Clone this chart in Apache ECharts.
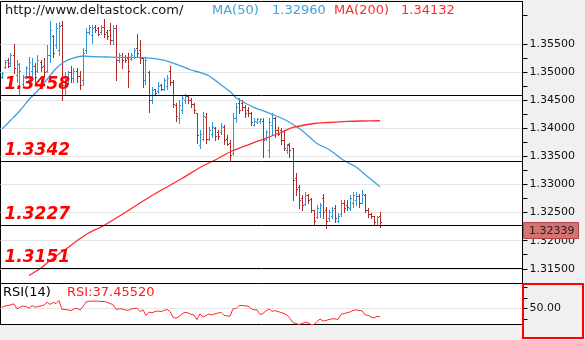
<!DOCTYPE html>
<html>
<head>
<meta charset="utf-8">
<script src="https://cdn.jsdelivr.net/npm/echarts@6/dist/echarts.min.js"></script>
<style>
  html, body { margin: 0; padding: 0; background: #f0f0f0; }
  #chart { width: 585px; height: 340px; }
</style>
</head>
<body>
<div id="chart"></div>
<script>
// OHLC bars, oldest first
const open = [
  1.34901, 1.35079, 1.35203, 1.35150, 1.35292, 1.34937, 1.34759, 1.34794, 1.34919, 1.34848,
  1.35025, 1.35114, 1.35025, 1.35185, 1.35097, 1.35025, 1.35292, 1.35630, 1.35470, 1.35381,
  1.35826, 1.34759, 1.34848, 1.34990, 1.34883, 1.35025, 1.34919, 1.34848, 1.35381, 1.35701,
  1.35648, 1.35790, 1.35772, 1.35701, 1.35790, 1.35701, 1.35737, 1.35559, 1.35772, 1.35203,
  1.35274, 1.35257, 1.35239, 1.35221, 1.35274, 1.35417, 1.35381, 1.35239, 1.34848, 1.34990,
  1.34492, 1.34688, 1.34652, 1.34759, 1.34705, 1.34741, 1.35025, 1.34812, 1.34403, 1.34172,
  1.34314, 1.34492, 1.34563, 1.34492, 1.34421, 1.34261, 1.33692, 1.33816, 1.34190, 1.33816,
  1.33905, 1.33994, 1.33923, 1.33923, 1.34012, 1.33816, 1.33745, 1.33567, 1.34172, 1.34456,
  1.34439, 1.34385, 1.34314, 1.34261, 1.34065, 1.34101, 1.34119, 1.34136, 1.33816, 1.33603,
  1.34048, 1.34172, 1.33976, 1.33959, 1.33781, 1.33603, 1.33710, 1.33639, 1.33105, 1.32945,
  1.32750, 1.32643, 1.32803, 1.32732, 1.32536, 1.32412, 1.32501, 1.32767, 1.32536, 1.32394,
  1.32447, 1.32572, 1.32358, 1.32465, 1.32678, 1.32625, 1.32572, 1.32678, 1.32714, 1.32785,
  1.32678, 1.32803, 1.32536, 1.32465, 1.32430, 1.32287, 1.32447
];
const high = [
  1.34990, 1.35203, 1.35239, 1.35345, 1.35505, 1.35203, 1.35150, 1.34937, 1.35114, 1.35257,
  1.35239, 1.35150, 1.35292, 1.35203, 1.35239, 1.35470, 1.35914, 1.35648, 1.35861, 1.35879,
  1.35914, 1.34990, 1.35025, 1.35114, 1.35061, 1.35061, 1.35025, 1.35417, 1.35772, 1.35826,
  1.35826, 1.35826, 1.35790, 1.35826, 1.35932, 1.35737, 1.35861, 1.35826, 1.35826, 1.35328,
  1.35345, 1.35292, 1.35328, 1.35328, 1.35417, 1.35683, 1.35559, 1.35257, 1.35257, 1.35025,
  1.34723, 1.34705, 1.34812, 1.34794, 1.34883, 1.34937, 1.35114, 1.34848, 1.34439, 1.34492,
  1.34581, 1.34616, 1.34581, 1.34545, 1.34456, 1.34261, 1.33959, 1.34279, 1.34261, 1.34012,
  1.34101, 1.34012, 1.33959, 1.34083, 1.34048, 1.33870, 1.33781, 1.34261, 1.34439, 1.34528,
  1.34492, 1.34403, 1.34368, 1.34279, 1.34172, 1.34172, 1.34172, 1.34172, 1.33959, 1.34172,
  1.34261, 1.34190, 1.34012, 1.33994, 1.33959, 1.33727, 1.33745, 1.33656, 1.33194, 1.32981,
  1.32803, 1.32856, 1.32838, 1.32750, 1.32536, 1.32625, 1.32678, 1.32838, 1.32590, 1.32536,
  1.32590, 1.32625, 1.32483, 1.32714, 1.32714, 1.32714, 1.32803, 1.32856, 1.32856, 1.32838,
  1.32892, 1.32838, 1.32572, 1.32483, 1.32447, 1.32447, 1.32501
];
const low = [
  1.34883, 1.35061, 1.35079, 1.35114, 1.34972, 1.34812, 1.34616, 1.34759, 1.34883, 1.34723,
  1.34901, 1.34794, 1.34990, 1.35025, 1.34937, 1.34990, 1.35168, 1.35257, 1.35434, 1.35292,
  1.34492, 1.34616, 1.34794, 1.34812, 1.34812, 1.34812, 1.34705, 1.34759, 1.35345, 1.35683,
  1.35523, 1.35701, 1.35648, 1.35683, 1.35612, 1.35594, 1.35505, 1.35505, 1.34848, 1.35168,
  1.35061, 1.35168, 1.34723, 1.35203, 1.35239, 1.35257, 1.35150, 1.34723, 1.34794, 1.34279,
  1.34456, 1.34616, 1.34634, 1.34670, 1.34670, 1.34705, 1.34759, 1.34368, 1.34136, 1.34083,
  1.34261, 1.34439, 1.34456, 1.34368, 1.34261, 1.33745, 1.33639, 1.33781, 1.33745, 1.33781,
  1.33834, 1.33781, 1.33816, 1.33905, 1.33727, 1.33692, 1.33425, 1.33514, 1.34101, 1.34261,
  1.34314, 1.34190, 1.34225, 1.34048, 1.34048, 1.34083, 1.34083, 1.33479, 1.33781, 1.33479,
  1.33870, 1.33834, 1.33870, 1.33727, 1.33603, 1.33567, 1.33479, 1.32714, 1.32803, 1.32572,
  1.32536, 1.32625, 1.32661, 1.32501, 1.32270, 1.32394, 1.32412, 1.32394, 1.32216, 1.32358,
  1.32394, 1.32323, 1.32323, 1.32447, 1.32501, 1.32536, 1.32536, 1.32590, 1.32625, 1.32590,
  1.32678, 1.32501, 1.32412, 1.32394, 1.32270, 1.32270, 1.32234
];
const close = [
  1.34972, 1.35168, 1.35114, 1.35292, 1.35061, 1.35132, 1.35025, 1.34901, 1.35061, 1.35168,
  1.35114, 1.34901, 1.35203, 1.35079, 1.34990, 1.35292, 1.35737, 1.35345, 1.35772, 1.35808,
  1.34759, 1.34919, 1.34990, 1.34883, 1.35025, 1.34919, 1.34776, 1.35345, 1.35701, 1.35790,
  1.35772, 1.35737, 1.35683, 1.35790, 1.35683, 1.35630, 1.35559, 1.35772, 1.35203, 1.35292,
  1.35203, 1.35203, 1.35025, 1.35292, 1.35381, 1.35345, 1.35239, 1.34848, 1.35203, 1.34492,
  1.34670, 1.34634, 1.34741, 1.34705, 1.34848, 1.34883, 1.34812, 1.34421, 1.34225, 1.34403,
  1.34528, 1.34563, 1.34492, 1.34421, 1.34314, 1.33870, 1.33905, 1.34225, 1.33816, 1.33959,
  1.34012, 1.33852, 1.33852, 1.34030, 1.33781, 1.33727, 1.33514, 1.34172, 1.34385, 1.34314,
  1.34368, 1.34261, 1.34261, 1.34101, 1.34136, 1.34154, 1.34154, 1.33781, 1.33923, 1.34101,
  1.34172, 1.33959, 1.33905, 1.33781, 1.33639, 1.33692, 1.33603, 1.33070, 1.32927, 1.32714,
  1.32625, 1.32803, 1.32714, 1.32536, 1.32358, 1.32572, 1.32625, 1.32501, 1.32358, 1.32501,
  1.32536, 1.32394, 1.32447, 1.32678, 1.32572, 1.32590, 1.32750, 1.32803, 1.32785, 1.32661,
  1.32838, 1.32536, 1.32465, 1.32430, 1.32323, 1.32412, 1.32339
];

// Moving averages as [bar index, value]
const ma50 = [
  [0, 1.33985], [3, 1.34145], [6, 1.34314], [9, 1.34510], [12, 1.34670], [15, 1.34865],
  [18, 1.35061], [21, 1.35185], [24, 1.35248], [27, 1.35283], [30, 1.35274], [35, 1.35265],
  [40, 1.35257], [45, 1.35257], [50, 1.35239], [55, 1.35194], [60, 1.35097], [63, 1.35034],
  [66, 1.34990], [69, 1.34928], [72, 1.34812], [74, 1.34730], [76, 1.34652], [78, 1.34545],
  [81, 1.34448], [84, 1.34368], [88, 1.34288], [93, 1.34181], [96, 1.34101], [100, 1.33959],
  [105, 1.33727], [109, 1.33621], [114, 1.33425], [118, 1.33310], [121, 1.33176], [126, 1.32960]
];
const ma200 = [
  [9, 1.31381], [13, 1.31514], [16, 1.31647], [22, 1.31879], [28, 1.32109], [34, 1.32270],
  [40, 1.32465], [50, 1.32803], [60, 1.33105], [66, 1.33301], [72, 1.33461], [77, 1.33603],
  [86, 1.33781], [93, 1.33923], [97, 1.34012], [104, 1.34083], [109, 1.34101], [115, 1.34119],
  [120, 1.34127], [126, 1.34132]
];

// RSI(14), one value per bar
const rsi = [
  51.3, 52.8, 53.8, 54.8, 56.3, 49.0, 51.3, 53.1, 52.3, 49.9,
  53.8, 51.3, 52.3, 53.1, 54.5, 58.6, 55.3, 58.2, 56.7, 61.1,
  48.0, 48.0, 47.2, 46.5, 48.7, 49.9, 47.2, 52.3, 58.9, 60.1,
  60.1, 60.4, 60.1, 59.7, 59.7, 58.6, 56.7, 55.3, 48.0, 49.0,
  48.7, 47.5, 46.5, 48.7, 49.4, 49.9, 45.0, 47.5, 39.2, 44.0,
  43.1, 45.0, 45.8, 45.0, 46.5, 48.0, 45.0, 36.7, 35.2, 37.7,
  41.4, 44.0, 43.1, 40.9, 39.9, 33.3, 41.7, 36.7, 39.2, 41.4,
  39.9, 41.7, 42.8, 44.0, 39.2, 38.7, 38.1, 49.0, 49.4, 53.8,
  53.8, 53.4, 52.8, 49.4, 47.5, 47.5, 40.6, 42.1, 46.0, 48.7,
  45.3, 46.2, 45.0, 43.6, 42.1, 39.9, 34.8, 28.9, 27.4, 26.0,
  27.4, 29.4, 28.5, 26.0, 26.0, 30.4, 34.0, 31.1, 31.9, 33.3,
  34.3, 34.3, 33.3, 40.6, 42.1, 43.1, 44.3, 46.5, 47.5, 46.5,
  46.2, 40.2, 39.5, 37.0, 35.5, 38.0, 37.4552
];

// Horizontal support / resistance levels
const levels = [1.3458, 1.3342, 1.3227, 1.3151];

// Axis ticks
const priceTicks = [1.315, 1.32, 1.325, 1.33, 1.335, 1.34, 1.345, 1.35, 1.355];
const priceMinorTicks = [1.3125, 1.3175, 1.3225, 1.3275, 1.3325, 1.3375, 1.3425, 1.3475, 1.3525, 1.36];
const rsiTicks = [50];
const rsiMinorTicks = [34.3, 65.1, 80.6];

const slotCount = 174;
const slots = Array.from({ length: slotCount }, (_, i) => i);

const UP = '#2d95d8';
const DOWN = '#b02a2a';
const MA50_COLOR = '#3fa0dc';
const MA200_COLOR = '#ff2b2b';
const FONT = '"DejaVu Sans", Verdana, sans-serif';

const bars = open.map((o, i) => [i, o, high[i], low[i], close[i]]);

function renderBar(params, api) {
  const idx = api.value(0);
  const o = api.value(1), h = api.value(2), l = api.value(3), c = api.value(4);
  const pH = api.coord([idx, h]);
  const pL = api.coord([idx, l]);
  const pO = api.coord([idx, o]);
  const pC = api.coord([idx, c]);
  const x = Math.floor(pH[0]) + 0.5;
  const style = { stroke: c >= o ? UP : DOWN, lineWidth: 1 };
  const yo = Math.round(pO[1]) + 0.5;
  const yc = Math.round(pC[1]) + 0.5;
  return {
    type: 'group',
    children: [
      { type: 'line', shape: { x1: x, y1: Math.round(pH[1]), x2: x, y2: Math.round(pL[1]) + 1 }, style },
      { type: 'line', shape: { x1: x - 1.5, y1: yo, x2: x, y2: yo }, style },
      { type: 'line', shape: { x1: x, y1: yc, x2: x + 1.5, y2: yc }, style }
    ]
  };
}

const chart = echarts.init(document.getElementById('chart'), null, { renderer: 'canvas' });

const axisLabelStyle = { color: '#111', fontSize: 11, fontFamily: FONT, margin: 7 };

chart.setOption({
  animation: false,
  backgroundColor: '#f0f0f0',
  grid: [
    { left: 0.5, top: 1.5, width: 522, height: 282, show: true, backgroundColor: '#fff', borderColor: '#000', borderWidth: 1 },
    { left: 0.5, top: 283.5, width: 522, height: 41, show: true, backgroundColor: '#fff', borderColor: '#000', borderWidth: 1 }
  ],
  xAxis: [
    { type: 'category', gridIndex: 0, data: slots, boundaryGap: true, show: false },
    { type: 'category', gridIndex: 1, data: slots, boundaryGap: true, show: false }
  ],
  yAxis: [
    {
      type: 'value', gridIndex: 0, position: 'right', min: 1.31238, max: 1.36252,
      axisLine: { show: true, lineStyle: { color: '#000' } },
      axisTick: { show: true, length: 5, customValues: priceTicks, lineStyle: { color: '#000' } },
      axisLabel: { ...axisLabelStyle, customValues: priceTicks, formatter: v => v.toFixed(5) },
      splitLine: { show: true, lineStyle: { color: '#e6e6e6', width: 1 } }
    },
    {
      type: 'value', gridIndex: 0, position: 'right', min: 1.31238, max: 1.36252,
      axisLine: { show: false },
      axisTick: { show: true, length: 5, customValues: priceMinorTicks, lineStyle: { color: '#000' } },
      axisLabel: { show: false },
      splitLine: { show: false }
    },
    {
      type: 'value', gridIndex: 1, position: 'right', min: 26, max: 86,
      axisLine: { show: true, lineStyle: { color: '#000' } },
      axisTick: { show: true, length: 5, customValues: rsiTicks, lineStyle: { color: '#000' } },
      axisLabel: { ...axisLabelStyle, customValues: rsiTicks, formatter: v => v.toFixed(2) },
      splitLine: { show: true, lineStyle: { color: '#e6e6e6', width: 1 } }
    },
    {
      type: 'value', gridIndex: 1, position: 'right', min: 26, max: 86,
      axisLine: { show: false },
      axisTick: { show: true, length: 5, customValues: rsiMinorTicks, lineStyle: { color: '#000' } },
      axisLabel: { show: false },
      splitLine: { show: false }
    }
  ],
  series: [
    {
      name: 'Price', type: 'custom', xAxisIndex: 0, yAxisIndex: 0,
      renderItem: renderBar, data: bars, encode: { x: 0, y: [1, 2, 3, 4] },
      clip: true, silent: true, z: 2
    },
    {
      name: 'MA(50)', type: 'line', xAxisIndex: 0, yAxisIndex: 0, data: ma50,
      showSymbol: false, smooth: 0.3, silent: true, z: 3,
      lineStyle: { color: MA50_COLOR, width: 1.3 }
    },
    {
      name: 'MA(200)', type: 'line', xAxisIndex: 0, yAxisIndex: 0, data: ma200,
      showSymbol: false, smooth: 0.3, silent: true, z: 3,
      lineStyle: { color: MA200_COLOR, width: 1.3 },
      markLine: {
        silent: true, symbol: ['none', 'none'], animation: false, precision: 4,
        lineStyle: { color: '#000', width: 1, type: 'solid' },
        emphasis: { disabled: true },
        label: {
          show: true, position: 'insideStartTop', distance: [4, 2],
          formatter: p => Number(p.value).toFixed(4),
          color: '#ff0000', fontSize: 17, fontWeight: 'bold', fontStyle: 'italic', fontFamily: FONT
        },
        data: levels.map(v => ({ yAxis: v }))
      }
    },
    {
      name: 'RSI', type: 'line', xAxisIndex: 1, yAxisIndex: 2, data: rsi,
      showSymbol: false, silent: true,
      lineStyle: { color: '#ff2b2b', width: 1 }
    }
  ]
});

// Header texts and the last-price tag on the price axis
const lastClose = close[close.length - 1];
const lastMa50 = ma50[ma50.length - 1][1];
const lastMa200 = ma200[ma200.length - 1][1];
const lastRsi = rsi[rsi.length - 1];
const yLast = chart.convertToPixel({ yAxisIndex: 0 }, lastClose);

const headText = (x, y, text, fill) => ({
  type: 'text', x, y, z: 50,
  style: { text, fill, font: '13px ' + FONT, textVerticalAlign: 'middle' }
});

chart.setOption({
  graphic: [
    headText(5, 11, 'http://www.deltastock.com/', '#151515'),
    headText(212, 11, 'MA(50)', MA50_COLOR),
    headText(272, 11, lastMa50.toFixed(5), MA50_COLOR),
    headText(334, 11, 'MA(200)', MA200_COLOR),
    headText(401, 11, lastMa200.toFixed(5), MA200_COLOR),
    headText(3, 293, 'RSI(14)', '#000'),
    headText(67, 293, 'RSI:' + lastRsi.toFixed(5), '#ff1a1a'),
    {
      type: 'rect', z: 60,
      shape: { x: 523.5, y: Math.round(yLast) + 0.5, width: 55, height: 16 },
      style: { fill: '#d77272', stroke: '#b04545', lineWidth: 1 }
    },
    {
      type: 'text', z: 61, x: 529, y: Math.round(yLast) + 9,
      style: { text: lastClose.toFixed(5), fill: '#222', font: '11px ' + FONT, textVerticalAlign: 'middle' }
    },
    {
      type: 'rect', z: 60,
      shape: { x: 523, y: 284, width: 60, height: 54 },
      style: { fill: 'none', stroke: '#ff0000', lineWidth: 2 }
    }
  ]
});
</script>
</body>
</html>
